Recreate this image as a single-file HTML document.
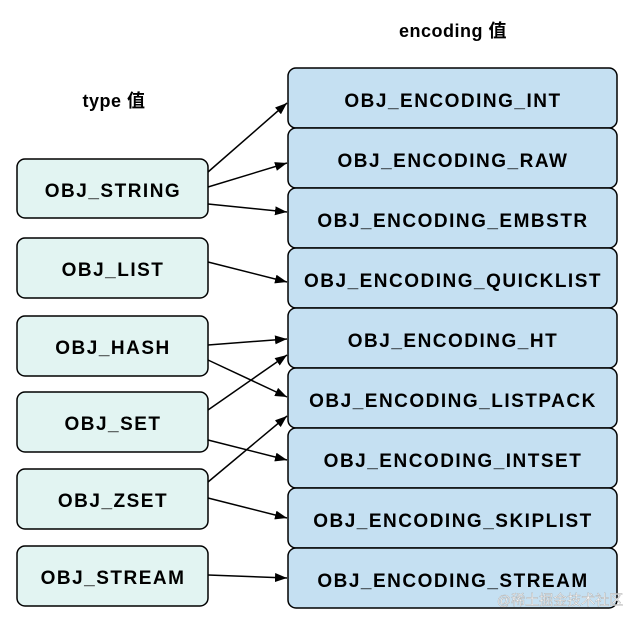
<!DOCTYPE html>
<html><head><meta charset="utf-8"><style>
body{margin:0;background:#fff;}
svg text{font-family:"Liberation Sans","Noto Sans CJK SC",sans-serif;font-weight:bold;font-size:19px;letter-spacing:1.5px;fill:#000;}
</style></head><body>
<svg width="634" height="625" viewBox="0 0 634 625">
<defs><marker id="a" markerWidth="12" markerHeight="9" refX="12" refY="4.5" orient="auto" markerUnits="userSpaceOnUse"><path d="M0,0L12,4.5L0,9z" fill="#000"/></marker></defs>
<text x="453" y="37" text-anchor="middle" style="font-size:18px;letter-spacing:0.5px">encoding 值</text>
<text x="114" y="107" text-anchor="middle" style="font-size:18px;letter-spacing:0.5px">type 值</text>
<g stroke="#000" stroke-width="1.5" fill="#c5e0f2">
<rect x="288" y="68" width="329" height="60" rx="8"/>
<rect x="288" y="128" width="329" height="60" rx="8"/>
<rect x="288" y="188" width="329" height="60" rx="8"/>
<rect x="288" y="248" width="329" height="60" rx="8"/>
<rect x="288" y="308" width="329" height="60" rx="8"/>
<rect x="288" y="368" width="329" height="60" rx="8"/>
<rect x="288" y="428" width="329" height="60" rx="8"/>
<rect x="288" y="488" width="329" height="60" rx="8"/>
<rect x="288" y="548" width="329" height="60" rx="8"/>
</g>
<g stroke="#000" stroke-width="1.5" fill="#e2f4f2">
<rect x="17" y="159" width="191" height="59" rx="8"/>
<rect x="17" y="238" width="191" height="60" rx="8"/>
<rect x="17" y="316" width="191" height="60" rx="8"/>
<rect x="17" y="392" width="191" height="60" rx="8"/>
<rect x="17" y="469" width="191" height="60" rx="8"/>
<rect x="17" y="546" width="191" height="60" rx="8"/>
</g>
<g text-anchor="middle">
<text x="453" y="107">OBJ_ENCODING_INT</text>
<text x="453" y="167">OBJ_ENCODING_RAW</text>
<text x="453" y="227">OBJ_ENCODING_EMBSTR</text>
<text x="453" y="287">OBJ_ENCODING_QUICKLIST</text>
<text x="453" y="347">OBJ_ENCODING_HT</text>
<text x="453" y="407">OBJ_ENCODING_LISTPACK</text>
<text x="453" y="467">OBJ_ENCODING_INTSET</text>
<text x="453" y="527">OBJ_ENCODING_SKIPLIST</text>
<text x="453" y="587">OBJ_ENCODING_STREAM</text>
<text x="113" y="197">OBJ_STRING</text>
<text x="113" y="276">OBJ_LIST</text>
<text x="113" y="354">OBJ_HASH</text>
<text x="113" y="430">OBJ_SET</text>
<text x="113" y="507">OBJ_ZSET</text>
<text x="113" y="584">OBJ_STREAM</text>
</g>
<g stroke="#000" stroke-width="1.5" marker-end="url(#a)">
<line x1="208" y1="172" x2="287" y2="103"/>
<line x1="208" y1="187" x2="287" y2="163"/>
<line x1="208" y1="204" x2="287" y2="212"/>
<line x1="208" y1="262" x2="287" y2="282"/>
<line x1="208" y1="345" x2="287" y2="339"/>
<line x1="208" y1="360" x2="287" y2="397"/>
<line x1="208" y1="410" x2="287" y2="355"/>
<line x1="208" y1="440" x2="287" y2="460"/>
<line x1="208" y1="482" x2="287" y2="416"/>
<line x1="208" y1="498" x2="287" y2="518"/>
<line x1="208" y1="575" x2="287" y2="578"/>
</g>
<text x="560" y="605" text-anchor="middle" style="font-size:14px;font-weight:normal;letter-spacing:0;fill:#fff;stroke:#aaa;stroke-width:0.4">@稀土掘金技术社区</text>
</svg>
</body></html>
